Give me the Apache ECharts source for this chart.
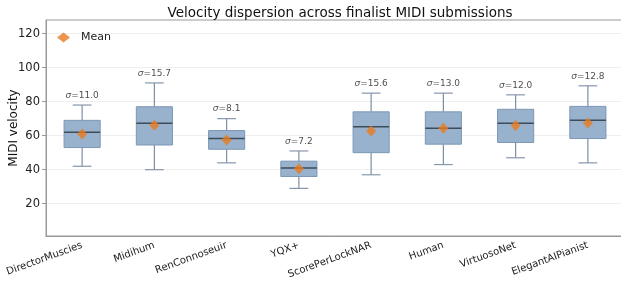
<!DOCTYPE html>
<html>
<head>
<meta charset="utf-8">
<script src="https://cdn.jsdelivr.net/npm/echarts@6/dist/echarts.min.js"></script>
<style>
  html, body { margin: 0; padding: 0; background: #fff; }
  #chart { width: 621px; height: 282px; }
</style>
</head>
<body>
<div id="chart"></div>
<script>
  // models
  var models = ['DirectorMuscies', 'Midihum', 'RenConnoseuir', 'YQX+', 'ScorePerLockNAR', 'Human', 'VirtuosoNet', 'ElegantAIPianist']
  // whisker low, q1, median, q3, whisker high
  var whiskerLow = [42, 40, 44, 29, 37, 43, 47, 44]
  var q1 = [53, 54.5, 52, 36, 50, 55, 56, 58.3]
  var median = [62, 67.3, 58.3, 41, 65.2, 64.4, 67.3, 69.1]
  var q3 = [69, 77, 63, 45, 74, 74, 75.5, 77.2]
  var whiskerHigh = [78, 91, 70, 51, 85, 85, 84, 89.3]
  var means = [61, 66.1, 57.4, 40.6, 62.8, 64.4, 65.9, 67.5]
  var sigmas = ['11.0', '15.7', '8.1', '7.2', '15.6', '13.0', '12.0', '12.8']
  var yTicks = [20, 40, 60, 80, 100, 120]

  var boxData = models.map(function (m, i) {
    return [i, whiskerLow[i], q1[i], median[i], q3[i], whiskerHigh[i]]
  })

  function renderBox(params, api) {
    var x = api.value(0)
    var lo = api.coord([x, api.value(1)])
    var b1 = api.coord([x, api.value(2)])
    var md = api.coord([x, api.value(3)])
    var b3 = api.coord([x, api.value(4)])
    var hi = api.coord([x, api.value(5)])
    var band = api.size([1, 0])[0]
    var hw = band * 0.25
    var cw = band * 0.13
    var cx = lo[0]
    var wStyle = { stroke: '#7d8ea3', lineWidth: 1.2 }
    return {
      type: 'group',
      children: [
        { type: 'line', shape: { x1: cx, y1: b1[1], x2: cx, y2: lo[1] }, style: wStyle },
        { type: 'line', shape: { x1: cx, y1: b3[1], x2: cx, y2: hi[1] }, style: wStyle },
        { type: 'line', shape: { x1: cx - cw, y1: lo[1], x2: cx + cw, y2: lo[1] }, style: { stroke: '#8797ab', lineWidth: 1.2 } },
        { type: 'line', shape: { x1: cx - cw, y1: hi[1], x2: cx + cw, y2: hi[1] }, style: { stroke: '#8797ab', lineWidth: 1.2 } },
        { type: 'rect', shape: { x: cx - hw, y: b3[1], width: hw * 2, height: b1[1] - b3[1] },
          style: { fill: '#98b2cd', stroke: '#7c97b6', lineWidth: 1 } },
        { type: 'line', shape: { x1: cx - hw, y1: md[1], x2: cx + hw, y2: md[1] }, style: { stroke: '#3e4b59', lineWidth: 1.5 } }
      ]
    }
  }

  var chart = echarts.init(document.getElementById('chart'))
  chart.setOption({
    animation: false,
    textStyle: { fontFamily: 'DejaVu Sans' },
    title: {
      text: 'Velocity dispersion across finalist MIDI submissions',
      left: 335, textAlign: 'center', top: 1,
      textStyle: { fontSize: 13.5, fontWeight: 'normal', color: '#111', fontFamily: 'DejaVu Sans' }
    },
    legend: {
      left: 52, top: 27, itemWidth: 13, itemHeight: 10, itemGap: 6,
      data: [{ name: 'Mean', icon: 'diamond' }],
      textStyle: { fontSize: 11, color: '#222', padding: [0, 0, 0, 6] }
    },
    grid: {
      left: 46, right: -3, top: 20, bottom: 46, outerBoundsMode: 'none',
      show: true, borderColor: '#999', borderWidth: 1, backgroundColor: 'transparent'
    },
    xAxis: {
      type: 'category', data: models, boundaryGap: true,
      axisLine: { lineStyle: { color: '#999' } },
      axisTick: { alignWithLabel: true, length: 4, lineStyle: { color: '#999' } },
      axisLabel: { rotate: 20, fontSize: 10, color: '#222', margin: 9, interval: 0 },
      splitLine: { show: false }
    },
    yAxis: {
      type: 'value', min: 1, max: 128,
      name: 'MIDI velocity', nameLocation: 'middle', nameGap: 26, nameMoveOverlap: false,
      nameTextStyle: { fontSize: 12, color: '#111' },
      axisLine: { show: true, lineStyle: { color: '#999' } },
      axisTick: { show: true, length: 4, lineStyle: { color: '#999' }, customValues: yTicks },
      axisLabel: { fontSize: 11.5, color: '#222', margin: 6, customValues: yTicks },
      splitLine: { show: true, lineStyle: { color: '#efefef', width: 1 } }
    },
    series: [
      {
        name: 'box', type: 'custom', renderItem: renderBox,
        encode: { x: 0, y: [1, 2, 3, 4, 5] }, data: boxData, z: 2
      },
      {
        name: 'Mean', type: 'scatter', symbol: 'diamond', symbolSize: [10, 11],
        itemStyle: { color: '#e97a1f' }, data: means, z: 4
      },
      {
        name: 'sigma', type: 'scatter', symbolSize: 0, silent: true,
        data: whiskerHigh.map(function (v, i) { return { value: [i, v], sigma: sigmas[i] } }),
        label: {
          show: true, position: 'top', distance: 5,
          formatter: function (p) { return '{i|σ}=' + sigmas[p.dataIndex] },
          fontSize: 9, color: '#222',
          rich: { i: { fontStyle: 'italic', fontSize: 9, color: '#222' } }
        }
      }
    ]
  })
</script>
</body>
</html>
